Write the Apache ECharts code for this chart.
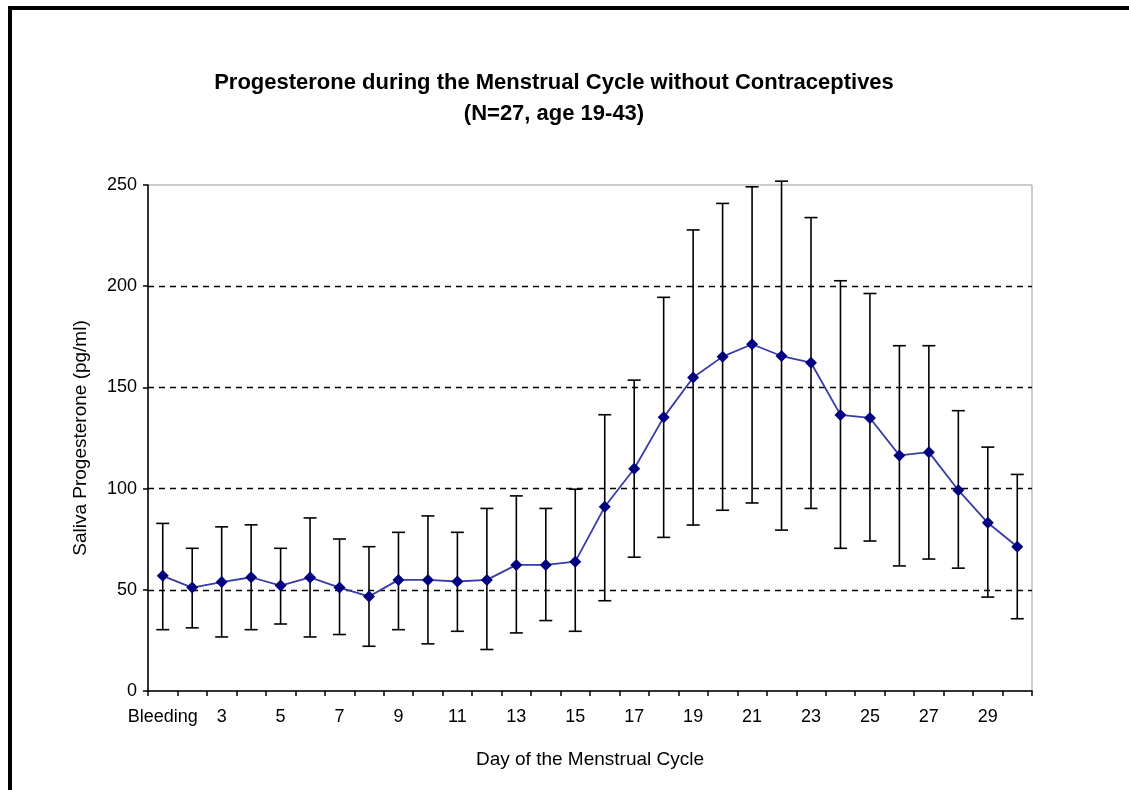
<!DOCTYPE html>
<html>
<head>
<meta charset="utf-8">
<script src="https://cdn.jsdelivr.net/npm/echarts@6/dist/echarts.min.js"></script>
<style>
html,body{margin:0;padding:0;background:#fff;}
#chart{width:1129px;height:790px;}
</style>
</head>
<body>
<div id="chart"></div>
<script>
const categories = ['Bleeding','2','3','4','5','6','7','8','9','10','11','12','13','14','15','16','17','18','19','20','21','22','23','24','25','26','27','28','29','30'];
const meanValues = [56.9,51.1,53.8,56.2,52.1,56.1,51.1,46.7,54.9,54.9,54.1,54.9,62.3,62.3,63.9,91.0,109.8,135.2,154.9,165.2,171.3,165.5,162.2,136.4,134.9,116.4,118.0,99.2,83.1,71.3];
const upperValues = [82.8,70.5,81.1,82.1,70.5,85.5,75.1,71.3,78.4,86.5,78.4,90.2,96.4,90.2,99.7,136.5,153.6,194.5,227.8,240.9,249.1,251.9,233.9,202.7,196.4,170.6,170.6,138.5,120.5,107.0];
const lowerValues = [30.3,31.2,26.7,30.3,33.1,26.7,27.9,22.1,30.3,23.3,29.5,20.5,28.7,34.8,29.5,44.6,66.1,75.9,82.0,89.3,92.9,79.5,90.2,70.5,74.1,61.8,65.2,60.7,46.4,35.7];
const yTicks = [0,50,100,150,200,250];

const font = 'Liberation Sans, Arial, sans-serif';
const errData = categories.map((c,i)=>[i, lowerValues[i], upperValues[i]]);

const chart = echarts.init(document.getElementById('chart'));
chart.setOption({
  backgroundColor:'#fff',
  animation:false,
  title:{
    text:'Progesterone during the Menstrual Cycle without Contraceptives\n(N=27, age 19-43)',
    left:549, top:62, textAlign:'center',
    textStyle:{fontFamily:font,fontWeight:'bold',fontSize:22,color:'#000',lineHeight:31}
  },
  graphic:[
    {type:'rect',shape:{x:8,y:6,width:1130,height:4},style:{fill:'#000'}},
    {type:'rect',shape:{x:8,y:6,width:4,height:790},style:{fill:'#000'}}
  ],
  grid:{left:148,right:97,top:185,bottom:99,show:true,borderColor:'#999',borderWidth:1,backgroundColor:'transparent'},
  xAxis:{
    type:'category',data:categories,boundaryGap:true,
    name:'Day of the Menstrual Cycle',nameLocation:'middle',nameGap:59,
    nameTextStyle:{fontFamily:font,fontSize:19,color:'#000'},
    axisLine:{lineStyle:{color:'#000',width:1.5}},
    axisTick:{show:true,interval:0,length:5,lineStyle:{color:'#000',width:1.5}},
    axisLabel:{interval:1,fontFamily:font,fontSize:18,color:'#000',margin:17},
    splitLine:{show:false}
  },
  yAxis:{
    type:'value',min:0,max:250,interval:50,
    name:'Saliva Progesterone (pg/ml)',nameLocation:'middle',nameGap:58,
    nameTextStyle:{fontFamily:font,fontSize:19,color:'#000'},
    axisLine:{show:true,lineStyle:{color:'#000',width:1.5}},
    axisTick:{show:true,length:5,lineStyle:{color:'#000',width:1.5}},
    axisLabel:{fontFamily:font,fontSize:18,color:'#000',margin:11,
      formatter:(v)=>yTicks.includes(v)?String(v):''},
    splitLine:{show:true,lineStyle:{color:['transparent','#000','#000','#000','#000','transparent'],type:[6,5],width:1.3}}
  },
  series:[
    {
      type:'custom',z:2,
      renderItem:function(params,api){
        const x=api.value(0);
        const lo=api.coord([x,api.value(1)]);
        const hi=api.coord([x,api.value(2)]);
        const cw=6.5;
        const st={stroke:'#000',lineWidth:1.6};
        return {type:'group',children:[
          {type:'line',shape:{x1:lo[0],y1:lo[1],x2:hi[0],y2:hi[1]},style:st},
          {type:'line',shape:{x1:lo[0]-cw,y1:lo[1],x2:lo[0]+cw,y2:lo[1]},style:st},
          {type:'line',shape:{x1:hi[0]-cw,y1:hi[1],x2:hi[0]+cw,y2:hi[1]},style:st}
        ]};
      },
      encode:{x:0,y:[1,2]},
      data:errData
    },
    {
      type:'line',z:3,data:meanValues,
      symbol:'diamond',symbolSize:12,
      itemStyle:{color:'#000080'},
      lineStyle:{color:'#3a3aa8',width:1.8}
    }
  ]
});
</script>
</body>
</html>
